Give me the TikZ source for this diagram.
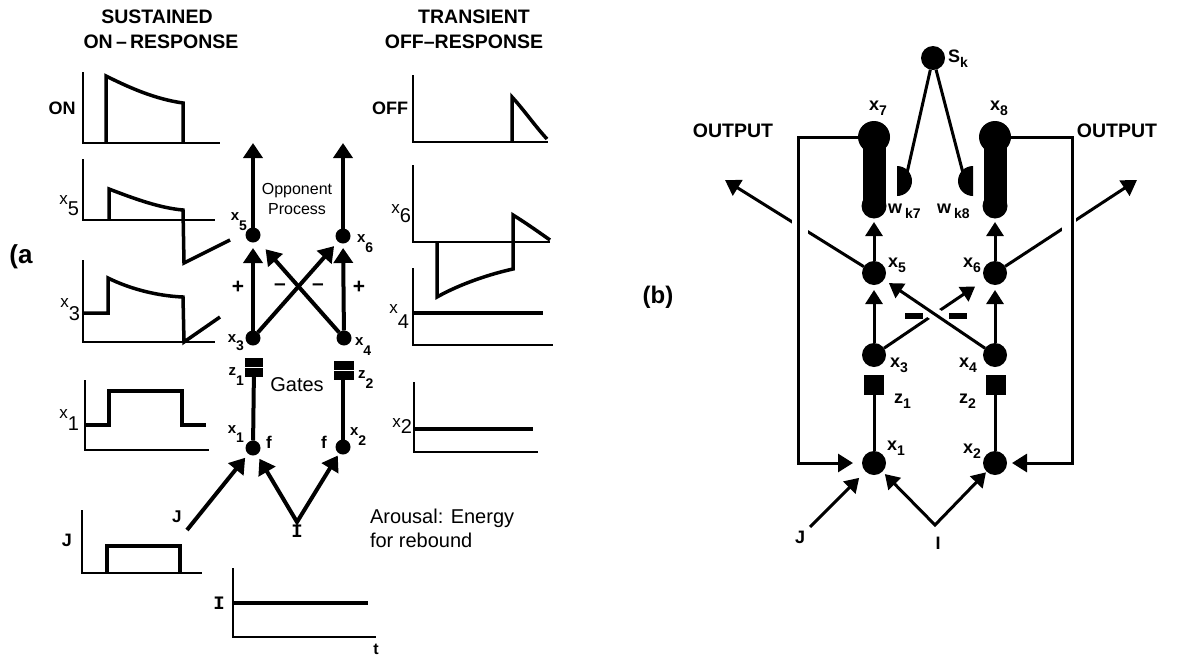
\documentclass[tikz,border=0pt]{standalone}
\usepackage{fontspec}
\setmainfont{Liberation Sans}
\newfontfamily\monobf{Liberation Mono}
\usetikzlibrary{arrows.meta,calc}
\newcommand{\fsz}[1]{\fontsize{#1pt}{#1pt}\selectfont}
\newcommand{\plab}[3]{{\fsz{17}#1}\raisebox{-#3pt}{\fsz{20}#2}}
\newcommand{\nlab}[3]{{\fsz{15}\bfseries #1}\raisebox{-#3pt}{\fsz{14}\bfseries #2}}
\newcommand{\blab}[2]{{\fsz{18}\bfseries #1}\raisebox{-5pt}{\fsz{14}\bfseries #2}}
\begin{document}
\begin{tikzpicture}[x=1pt,y=-1pt,
 every node/.style={inner sep=0pt, outer sep=0pt},
 axis/.style={line width=2pt},
 trace/.style={line width=3.5pt, line join=miter},
 dota/.style={circle, fill, minimum size=15pt},
 dotb/.style={circle, fill, minimum size=24pt},
 arra/.style={line width=4pt, -{Triangle[length=15pt,width=19pt]}},
 arrb/.style={line width=3pt, -{Triangle[length=14pt,width=17pt]}},
 lineb/.style={line width=3pt},
 head/.style={font=\fsz{19.5}\bfseries},
 plt/.style={font=\fsz{18}\bfseries},
 sgn/.style={font=\fsz{21}\bfseries}]
\useasboundingbox (0,0) rectangle (1183,656);

% ---------------- panel (a): plots ----------------
\node[head] (h1) at (157,17) {SUSTAINED};
\node[head] (h2) at (161,42) {ON\,–\,RESPONSE};
\node[head] (h3) at (474,17) {TRANSIENT};
\node[head] (h4) at (464,42) {OFF–RESPONSE};
\node[font=\fsz{26}\bfseries] (la) at (21,257) {(a};

% ON
\draw[axis] (83,72) -- (83,143) -- (220,143);
\draw[trace] (106,143) -- (106,76) .. controls (130,88) and (155,99) .. (183,103) -- (183,143);
\node[plt] (lON) at (62,108) {ON};
% x5
\draw[axis] (83,159) -- (83,220) -- (215,220);
\draw[trace] (109,220) -- (109,189) .. controls (135,199) and (160,208) .. (183,210) -- (184,263) -- (230,240);
\node[anchor=base east] (lx5p) at (79,204) {\plab{x}{5}{11}};
% x3
\draw[axis] (83,260) -- (83,342) -- (215,342);
\draw[trace] (83,313) -- (108,313) -- (108,278) .. controls (130,289) and (158,296) .. (183,297) -- (184,342) -- (220,317);
\node[anchor=base east] (lx3p) at (80,307) {\plab{x}{3}{13}};
% x1
\draw[axis] (85,380) -- (85,450) -- (209,450);
\draw[trace] (85,425) -- (109,425) -- (109,391) -- (182,391) -- (182,425) -- (206,425);
\node[anchor=base east] (lx1p) at (79,418) {\plab{x}{1}{12}};
% J
\draw[axis] (82,510) -- (82,573) -- (202,573);
\draw[trace] (107,573) -- (107,546) -- (180,546) -- (180,573);
\node[plt] (lJp) at (67,540) {J};
% I
\draw[axis] (233,568) -- (233,637) -- (376,637);
\draw[trace] (233,603) -- (368,603);
\node[font=\fsz{19}\monobf\bfseries] (lIp) at (219,603) {I};
\node[font=\fsz{16}\bfseries, anchor=south] (lt) at (376,655) {t};
% OFF
\draw[axis] (413,75) -- (413,142) -- (548,142);
\draw[trace] (512,142) -- (512,97) .. controls (524,110) and (535,126) .. (547,139);
\node[plt] (lOFF) at (390,108) {OFF};
% x6
\draw[axis] (413,165) -- (413,242) -- (550,242);
\draw[trace] (437,242) -- (437,297) .. controls (460,284) and (490,274) .. (513,269) -- (513,215) .. controls (526,223) and (540,233) .. (550,240);
\node[anchor=base east] (lx6p) at (411,213) {\plab{x}{6}{9}};
% x4
\draw[axis] (413,268) -- (413,345) -- (553,345);
\draw[trace] (413,313) -- (543,313);
\node[anchor=base east] (lx4p) at (409,313) {\plab{x}{4}{15}};
% x2
\draw[axis] (414,382) -- (414,452) -- (538,452);
\draw[trace] (414,429) -- (533,429);
\node[anchor=base east] (lx2p) at (412,427) {\plab{x}{2}{6}};

% ---------------- panel (a): network ----------------
\node[dota] (x5) at (253,235) {};
\node[dota] (x6) at (343,236) {};
\node[dota] (x3) at (253,338) {};
\node[dota] (x4) at (344,338) {};
\node[dota] (x1) at (253,448) {};
\node[dota] (x2) at (343,447) {};
\node[fill, minimum width=18pt, minimum height=19pt] (z1) at (254,367.5) {};
\node[fill, minimum width=20pt, minimum height=19pt] (z2) at (344,370.5) {};
\draw[white, line width=1.5pt] (z1.west) -- (z1.east);
\draw[white, line width=1.5pt] (z2.west) -- (z2.east);
\coordinate (t5) at (253,143);
\coordinate (t6) at (343,143);
\draw[arra] (x5) -- (t5);
\draw[arra] (x6) -- (t6);
\draw[arra, shorten >=5.5pt] (x3) -- (x5);
\draw[arra, shorten >=4.5pt] (x4) -- (x6);
\draw[arra, shorten >=11.5pt] (x4) -- (x5);
\draw[arra, shorten >=6pt] (x3) -- (x6);
\draw[line width=4pt] (x1) -- (z1);
\draw[line width=4pt] (x2) -- (x2 |- z2.south);
\coordinate (Ja) at (187,530);
\coordinate (Ia) at (297,522);
\draw[arra, shorten >=5pt] (Ja) -- (x1);
\draw[line width=4pt, line join=miter, {Triangle[length=15pt,width=19pt]}-{Triangle[length=15pt,width=19pt]}, shorten <=5pt, shorten >=2.5pt] (x1) -- (Ia) -- (x2);

\node[anchor=base east] (lx5) at (247,220) {\nlab{x}{5}{10}};
\node[anchor=base west] (lx6) at (357,242) {\nlab{x}{6}{10}};
\node[anchor=base east] (lx3) at (244,342) {\nlab{x}{3}{8}};
\node[anchor=base west] (lx4) at (355,345) {\nlab{x}{4}{10}};
\node[anchor=base east] (lz1) at (244,375) {\nlab{z}{1}{10}};
\node[anchor=base west] (lz2) at (358,378) {\nlab{z}{2}{10}};
\node[anchor=base east] (lx1) at (244,433) {\nlab{x}{1}{9}};
\node[anchor=base west] (lx2) at (350,435) {\nlab{x}{2}{10}};
\node[anchor=base west, font=\fsz{17}\bfseries] (lf1) at (266,448) {f};
\node[anchor=base west, font=\fsz{17}\bfseries] (lf2) at (321,448) {f};
\node[font=\fsz{16}] (op1) at (297,191) {Opponent};
\node[font=\fsz{16}] (op2) at (297,209) {Process};
\node[font=\fsz{20}] (gates) at (297,385) {Gates};
\node[sgn] (p1) at (238,287) {+};
\node[sgn] (m1a) at (280,287) {–};
\node[sgn] (m2a) at (318,287) {–};
\node[sgn] (p2) at (359,287) {+};
\node[anchor=base west, font=\fsz{17}\bfseries] (lJa) at (172,522) {J};
\node[font=\fsz{19}\monobf\bfseries] (lIa) at (297,531) {I};
\node[anchor=west, font=\fsz{20}] (ar1) at (370,518) {Arousal: Energy};
\node[anchor=west, font=\fsz{20}] (ar2) at (370,540) {for rebound};

% ---------------- panel (b) ----------------
\node[font=\fsz{24}\bfseries] (lb) at (658,297) {(b)};
\node[dotb] (Sk) at (933,58) {};
\node[circle, fill, minimum size=32pt] (x7) at (874,137) {};
\fill (863,137) rectangle (886,206);
\node[circle, fill, minimum size=25pt] (x7b) at (874,206) {};
\node[circle, fill, minimum size=32pt] (x8) at (995,137) {};
\fill (984,137) rectangle (1007,206);
\node[circle, fill, minimum size=25pt] (x8b) at (995,206) {};
\fill (897,166) -- (897,196) arc[start angle=-90, end angle=90, radius=15pt] -- cycle;
\fill (973,196) -- (973,166) arc[start angle=90, end angle=270, radius=15pt] -- cycle;
\coordinate (w7) at (907,173);
\coordinate (w8) at (963,173);
\draw[lineb] (Sk) -- (w7);
\draw[lineb] (Sk) -- (w8);

\node[dotb] (bx5) at (874,273) {};
\node[dotb] (bx6) at (995,273) {};
\node[dotb] (bx3) at (874,355) {};
\node[dotb] (bx4) at (995,355) {};
\node[dotb] (bx1) at (874,463) {};
\node[dotb] (bx2) at (995,463) {};
\node[fill, minimum size=20pt] (bz1) at (874,384.5) {};
\node[fill, minimum size=20pt] (bz2) at (996,384.5) {};
\draw[lineb] (bx1) -- (bz1);
\draw[lineb] (bx2) -- (bx2 |- bz2.south);

\draw[arrb, shorten >=3.5pt] (bx5) -- (x7b);
\draw[arrb, shorten >=3.5pt] (bx6) -- (x8b);
\draw[arrb, shorten >=5pt] (bx3) -- (bx5);
\draw[arrb, shorten >=5pt] (bx4) -- (bx6);
\draw[arrb, shorten >=12pt] (bx3) -- (bx6);
\draw[white, line width=13pt] ($(bx4)!0.46!(bx5)$) -- ($(bx4)!0.56!(bx5)$);
\draw[arrb, shorten >=6pt] (bx4) -- (bx5);
\node[fill, minimum width=18pt, minimum height=6pt] (m1) at (914,316) {};
\node[fill, minimum width=18pt, minimum height=6pt] (m2) at (958,316) {};

\coordinate (oL) at (725,180);
\coordinate (oR) at (1137,180);
\draw[arrb, -{Triangle[length=15pt,width=18pt]}] (bx5) -- (oL);
\draw[arrb, -{Triangle[length=15pt,width=18pt]}] (bx6) -- (oR);
\draw[white, line width=16pt] (800,205) -- (800,248);
\draw[white, line width=14pt] (1069,200) -- (1069,250);
\coordinate (fl1) at (798,137);
\coordinate (fl2) at (798,463);
\coordinate (fr1) at (1072,137);
\coordinate (fr2) at (1072,463);
\draw[lineb, line join=miter, -{Triangle[length=15pt,width=18pt]}, shorten >=9pt] (x7) -- (fl1) -- (fl2) -- (bx1);
\draw[lineb, line join=miter, -{Triangle[length=15pt,width=18pt]}, shorten >=5pt] (x8) -- (fr1) -- (fr2) -- (bx2);

\coordinate (Jb) at (810,527);
\coordinate (Ib) at (935,525);
\draw[arrb, shorten >=9pt] (Jb) -- (bx1);
\draw[line width=3pt, line join=miter, {Triangle[length=14pt,width=17pt]}-{Triangle[length=14pt,width=17pt]}, shorten <=3.5pt, shorten >=1pt] (bx1) -- (Ib) -- (bx2);

\node[anchor=base west] (lx7) at (869,110) {\blab{x}{7}};
\node[anchor=base west] (lx8) at (990,110) {\blab{x}{8}};
\node[anchor=base west] (lSk) at (948,62) {\blab{S}{k}};
\node[anchor=base west] (lw7) at (888,213) {\blab{w\,}{k7}};
\node[anchor=base west] (lw8) at (937,213) {\blab{w\,}{k8}};
\node[anchor=base west] (lbx5) at (888,267) {\blab{x}{5}};
\node[anchor=base west] (lbx6) at (963,267) {\blab{x}{6}};
\node[anchor=base west] (lbx3) at (890,367) {\blab{x}{3}};
\node[anchor=base west] (lbx4) at (959,367) {\blab{x}{4}};
\node[anchor=base west] (lbz1) at (894,403) {\blab{z}{1}};
\node[anchor=base west] (lbz2) at (959,403) {\blab{z}{2}};
\node[anchor=base west] (lbx1) at (887,450) {\blab{x}{1}};
\node[anchor=base west] (lbx2) at (963,453) {\blab{x}{2}};
\node[font=\fsz{18}\bfseries] (lJb) at (800,537) {J};
\node[font=\fsz{18}\bfseries] (lIb) at (938,543) {I};
\node[font=\fsz{19.5}\bfseries] (oLt) at (733,131) {OUTPUT};
\node[font=\fsz{19.5}\bfseries] (oRt) at (1117,131) {OUTPUT};
\end{tikzpicture}
\end{document}
